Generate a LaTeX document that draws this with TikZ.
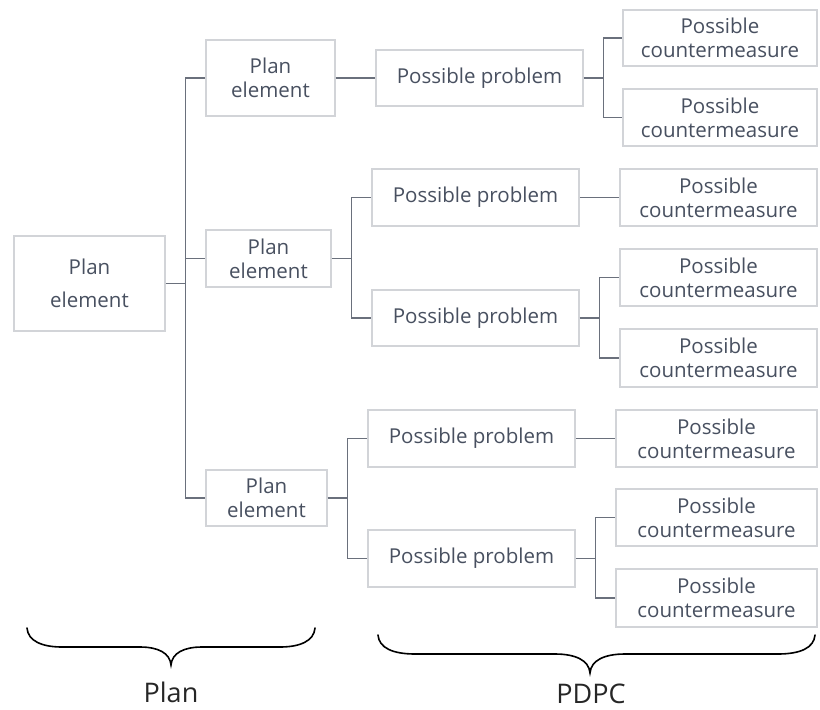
\documentclass[tikz,border=0pt]{standalone}
\usepackage{fontspec}
\setmainfont{Open Sans}
\begin{document}
\begin{tikzpicture}[x=1pt,y=-1pt,
  box/.style={draw=boxgray, line width=1.3pt, fill=white, text=textgray,
    inner sep=0pt, align=center, font=\fontsize{20.5}{24}\selectfont},
  link/.style={draw=linkgray, line width=1.6pt},
  bracepath/.style={draw=black, line width=1.6pt, line cap=round},
  bracelabel/.style={text=black!85, font=\fontsize{27}{30}\selectfont}]
\definecolor{boxgray}{HTML}{D2D4D8}
\definecolor{textgray}{HTML}{485060}
\definecolor{linkgray}{HTML}{6A707C}
\useasboundingbox (0,0) rectangle (820,710);

% root
\node[box, minimum width=151pt, minimum height=95pt,
      font=\fontsize{20.5}{33}\selectfont] (root) at (89.5,283.5) {Plan\\element};

% plan elements
\node[box, minimum width=129pt, minimum height=76pt] (pe1) at (270.5,78) {Plan\\element};
\node[box, minimum width=125pt, minimum height=57pt] (pe2) at (268.5,258.5) {Plan\\element};
\node[box, minimum width=121pt, minimum height=56pt] (pe3) at (266.5,498) {Plan\\element};

% possible problems
\node[box, minimum width=207pt, minimum height=56pt] (pp1) at (479.5,78) {Possible problem};
\node[box, minimum width=207pt, minimum height=57pt] (pp2) at (475.5,197.5) {Possible problem};
\node[box, minimum width=207pt, minimum height=56pt] (pp3) at (475.5,318) {Possible problem};
\node[box, minimum width=207pt, minimum height=57pt] (pp4) at (471.5,438.5) {Possible problem};
\node[box, minimum width=207pt, minimum height=57pt] (pp5) at (471.5,558.5) {Possible problem};

% possible countermeasures
\node[box, minimum width=194pt, minimum height=56pt] (cm1) at (720,38) {Possible\\countermeasure};
\node[box, minimum width=194pt, minimum height=57pt] (cm2) at (720,117.5) {Possible\\countermeasure};
\node[box, minimum width=197pt, minimum height=57pt] (cm3) at (718.5,197.5) {Possible\\countermeasure};
\node[box, minimum width=197pt, minimum height=57pt] (cm4) at (718.5,277.5) {Possible\\countermeasure};
\node[box, minimum width=197pt, minimum height=58pt] (cm5) at (718.5,358) {Possible\\countermeasure};
\node[box, minimum width=201pt, minimum height=57pt] (cm6) at (716.5,438.5) {Possible\\countermeasure};
\node[box, minimum width=201pt, minimum height=57pt] (cm7) at (716.5,517.5) {Possible\\countermeasure};
\node[box, minimum width=201pt, minimum height=58pt] (cm8) at (716.5,598) {Possible\\countermeasure};

% root to plan elements
\draw[link] (root.east) -- ++(20,0) coordinate (t0);
\draw[link] (t0) |- (pe1.west);
\draw[link] (t0) |- (pe2.west);
\draw[link] (t0) |- (pe3.west);

% plan elements to problems
\draw[link] (pe1.east) -- (pp1.west);
\draw[link] (pe2.east) -- ++(20,0) coordinate (t2);
\draw[link] (t2) |- (pp2.west);
\draw[link] (t2) |- (pp3.west);
\draw[link] (pe3.east) -- ++(20,0) coordinate (t3);
\draw[link] (t3) |- (pp4.west);
\draw[link] (t3) |- (pp5.west);

% problems to countermeasures
\draw[link] (pp1.east) -- ++(20,0) coordinate (f1);
\draw[link] (f1) |- (cm1.west);
\draw[link] (f1) |- (cm2.west);
\draw[link] (pp2.east) -- (cm3.west);
\draw[link] (pp3.east) -- ++(20,0) coordinate (f3);
\draw[link] (f3) |- (cm4.west);
\draw[link] (f3) |- (cm5.west);
\draw[link] (pp4.east) -- (cm6.west);
\draw[link] (pp5.east) -- ++(20,0) coordinate (f5);
\draw[link] (f5) |- (cm7.west);
\draw[link] (f5) |- (cm8.west);

% braces
\draw[bracepath] (27,628) .. controls (28,641) and (42,647) .. (62,647)
  -- (140,647) .. controls (158,647) and (170,653) .. (171,665)
  .. controls (172,653) and (184,647) .. (202,647)
  -- (280,647) .. controls (300,647) and (314,641) .. (315,628);
\draw[bracepath] (378,635) .. controls (379,648) and (393,654) .. (415,654)
  -- (555,654) .. controls (575,654) and (589,660) .. (590,673)
  .. controls (591,660) and (605,654) .. (625,654)
  -- (778,654) .. controls (800,654) and (814,648) .. (815,635);
\node[bracelabel] (planlbl) at (171,692) {Plan};
\node[bracelabel] (pdpclbl) at (591,694) {PDPC};
\end{tikzpicture}
\end{document}
